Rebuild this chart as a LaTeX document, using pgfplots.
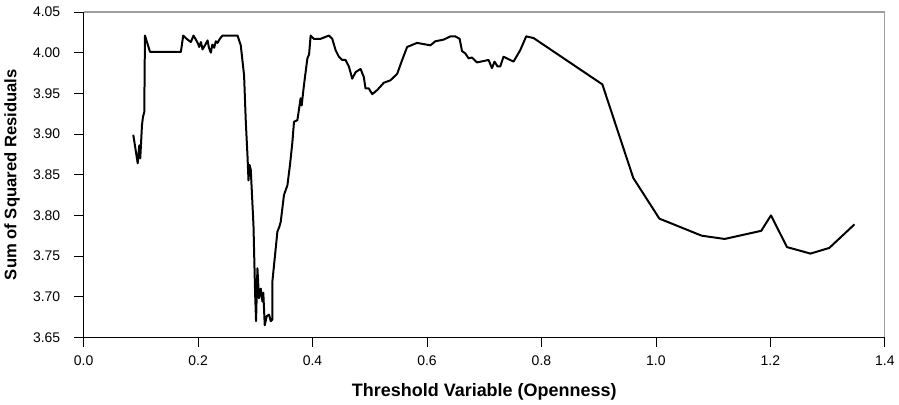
\documentclass[border=0pt]{standalone}
\usepackage{fontspec}
\setmainfont{Liberation Sans}
\usepackage{pgfplots}
\pgfplotsset{compat=1.18}

\begin{document}
\begin{tikzpicture}
\begin{axis}[
  scale only axis,
  width=602pt, height=244.5pt,
  xmin=0, xmax=1.4, ymin=3.65, ymax=4.05,
  xtick={0,0.2,...,1.4},
  ytick={3.65,3.70,...,4.06},
  axis x line*=bottom,
  axis y line*=left,
  axis line style={black, line width=0.8pt},
  tick align=outside,
  major tick length=7pt,
  tick style={black, line width=0.6pt},
  xticklabel style={/pgf/number format/.cd, fixed, fixed zerofill, precision=1, assume math mode=true},
  yticklabel style={/pgf/number format/.cd, fixed, fixed zerofill, precision=2, assume math mode=true},
  xticklabel shift=3.5pt,
  yticklabel shift=7pt,
  ticklabel style={font=\fontsize{10.5}{12}\selectfont},
  xlabel={\textbf{Threshold Variable (Openness)}},
  ylabel={\textbf{Sum of Squared Residuals}},
  xlabel style={font=\fontsize{13.5}{15}\selectfont, yshift=-6pt},
  ylabel style={font=\fontsize{12.5}{14}\selectfont, yshift=3pt},
  after end axis/.code={
    \draw[gray!75, line width=0.8pt] (rel axis cs:0,1) -- (rel axis cs:1,1) -- (rel axis cs:1,0);
    \path (rel axis cs:0,1) ++(0,9pt);
  },
  clip=false,
]
\addplot[black, line width=1.5pt, line join=round] coordinates {
(0.0868,3.899)(0.0945,3.864)(0.0973,3.886)(0.0990,3.870)(0.1020,3.911)(0.1037,3.921)
(0.1060,3.927)(0.1072,4.021)(0.1160,4.001)(0.1700,4.001)(0.1740,4.021)(0.1800,4.017)
(0.1874,4.013)(0.1920,4.021)(0.1962,4.016)(0.2000,4.011)(0.2019,4.007)(0.2050,4.013)
(0.2078,4.004)(0.2120,4.009)(0.2166,4.015)(0.2190,4.006)(0.2223,4.000)(0.2250,4.010)
(0.2281,4.006)(0.2310,4.014)(0.2340,4.012)(0.2380,4.017)(0.2427,4.021)(0.2689,4.021)
(0.2746,4.009)(0.2804,3.972)(0.2834,3.915)(0.2863,3.874)(0.2881,3.843)(0.2900,3.862)
(0.2921,3.856)(0.2968,3.788)(0.2996,3.706)(0.3013,3.670)(0.3037,3.735)(0.3065,3.698)
(0.3095,3.710)(0.3125,3.694)(0.3140,3.705)(0.3165,3.665)(0.3200,3.676)(0.3240,3.678)
(0.3270,3.670)(0.3299,3.672)(0.3299,3.719)(0.3386,3.780)(0.3420,3.786)(0.3444,3.792)
(0.3501,3.825)(0.3561,3.837)(0.3606,3.862)(0.3648,3.890)(0.3676,3.915)(0.3735,3.917)
(0.3792,3.944)(0.3810,3.935)(0.3850,3.960)(0.3910,3.993)(0.3940,3.998)(0.3967,4.021)
(0.4024,4.017)(0.4141,4.017)(0.4286,4.021)(0.4345,4.017)(0.4403,4.003)(0.4460,3.995)
(0.4520,3.991)(0.4577,3.991)(0.4635,3.983)(0.4694,3.968)(0.4752,3.976)(0.4839,3.980)
(0.4896,3.970)(0.4926,3.956)(0.4983,3.956)(0.5043,3.949)(0.5130,3.954)(0.5245,3.963)
(0.5362,3.966)(0.5479,3.974)(0.5566,3.991)(0.5653,4.007)(0.5827,4.012)(0.6059,4.009)
(0.6146,4.014)(0.6291,4.016)(0.6408,4.020)(0.6495,4.020)(0.6570,4.017)(0.6612,4.002)
(0.6670,3.999)(0.6727,3.993)(0.6786,3.994)(0.6874,3.988)(0.7076,3.991)(0.7135,3.981)
(0.7180,3.989)(0.7233,3.983)(0.7280,3.983)(0.7337,3.995)(0.7512,3.989)(0.7629,4.003)
(0.7733,4.020)(0.7861,4.018)(0.9064,3.961)(0.9604,3.846)(1.006,3.796)(1.080,3.775)
(1.120,3.771)(1.184,3.781)(1.201,3.800)(1.229,3.761)(1.270,3.753)(1.303,3.760)
(1.347,3.789)
};
\end{axis}
\end{tikzpicture}
\end{document}
